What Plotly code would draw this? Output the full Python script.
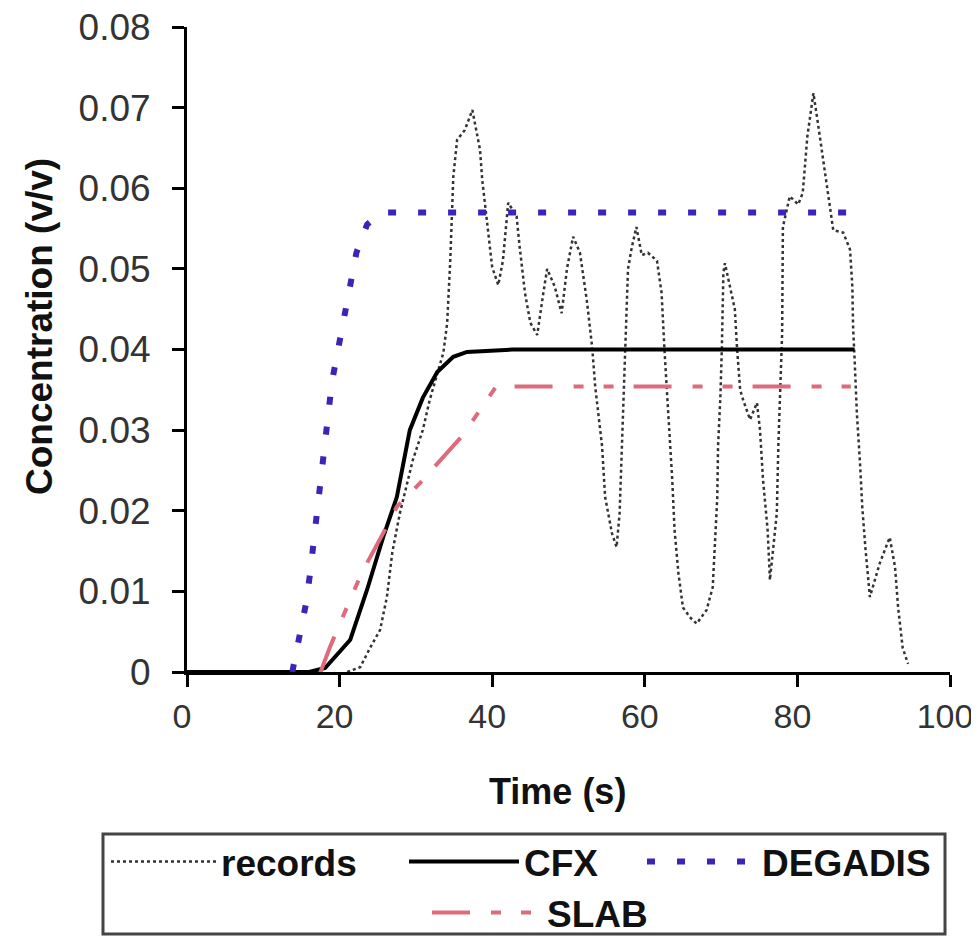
import plotly.graph_objects as go

# ---------------- data ----------------
records_t = [21.0, 22.7, 24.0, 25.3, 26.2, 26.9, 27.9, 29.6, 30.9, 31.8, 33.6, 34.1, 34.5, 34.7, 34.9,
             35.4, 36.4, 37.4, 38.4, 38.7, 39.1, 39.4, 40.0, 40.8, 41.4, 42.1, 43.2, 43.6, 44.3, 45.0,
             45.9, 46.7, 47.2, 48.2, 49.1, 49.8, 50.6, 51.5, 52.4, 53.1, 53.5, 54.4, 54.8, 55.7, 56.3,
             56.7, 57.0, 57.2, 57.4, 57.8, 58.3, 58.9, 59.6, 60.4, 61.6, 62.2, 62.6, 63.0, 63.6, 63.9,
             64.4, 65.0, 65.9, 66.8, 68.1, 68.9, 69.2, 69.5, 69.6, 69.9, 70.1, 70.3, 70.5, 71.2, 71.8,
             72.1, 72.5, 72.9, 73.8, 74.7, 75.1, 75.5, 76.1, 76.4, 77.3, 77.5, 77.7, 78.0, 78.1, 79.0,
             80.1, 80.7, 81.3, 82.1, 82.7, 83.4, 84.0, 84.7, 86.0, 86.9, 87.2, 87.3, 87.5, 87.8, 88.2,
             88.5, 88.9, 89.5, 90.8, 92.1, 92.8, 93.2, 93.8, 94.5]
records_c = [0.0, 0.0006, 0.003, 0.0052, 0.0093, 0.0148, 0.0197, 0.0263, 0.030, 0.0337, 0.0396, 0.0433,
             0.051, 0.0573, 0.0614, 0.066, 0.0672, 0.0697, 0.0648, 0.061, 0.0577, 0.0548, 0.0502, 0.048,
             0.051, 0.0582, 0.0565, 0.0527, 0.047, 0.0433, 0.0418, 0.047, 0.050, 0.0478, 0.0445, 0.050,
             0.054, 0.052, 0.0461, 0.0403, 0.0354, 0.028, 0.0217, 0.0172, 0.0155, 0.0197, 0.028, 0.034,
             0.0403, 0.050, 0.0527, 0.0552, 0.0517, 0.052, 0.051, 0.047, 0.0396, 0.0337, 0.0238, 0.0176,
             0.0123, 0.008, 0.0068, 0.006, 0.0077, 0.0105, 0.0155, 0.0217, 0.028, 0.034, 0.0403, 0.0495,
             0.0507, 0.0478, 0.045, 0.040, 0.035, 0.0337, 0.0313, 0.0334, 0.030, 0.0238, 0.0176, 0.0114,
             0.0197, 0.028, 0.0346, 0.042, 0.0552, 0.059, 0.058, 0.0594, 0.0664, 0.0718, 0.068, 0.0635,
             0.0594, 0.0548, 0.0545, 0.0524, 0.0478, 0.0428, 0.0387, 0.032, 0.026, 0.0205, 0.0155, 0.0093,
             0.0135, 0.0167, 0.013, 0.008, 0.003, 0.001]

cfx_t = [0.0, 16.0, 18.1, 19.5, 21.4, 23.6, 25.7, 27.5, 29.2, 30.9, 32.8, 34.9, 36.7, 42.7, 87.5]
cfx_c = [0.0, 0.0, 0.0005, 0.002, 0.004, 0.0102, 0.0167, 0.0217, 0.030, 0.034, 0.0372, 0.0391, 0.0397,
         0.040, 0.040]

degadis_t = [13.8, 14.8, 15.6, 16.1, 16.6, 17.1, 17.5, 18.0, 18.5, 19.0, 19.8, 20.6, 21.3, 22.2, 23.6,
             25.5, 88.0]
degadis_c = [0.0, 0.0045, 0.0085, 0.012, 0.016, 0.020, 0.024, 0.0285, 0.0325, 0.036, 0.040, 0.044,
             0.048, 0.052, 0.0555, 0.057, 0.057]

slab_t = [17.5, 18.7, 20.4, 22.9, 25.7, 27.5, 30.5, 33.2, 36.0, 38.4, 40.5, 87.0]
slab_c = [0.0, 0.003, 0.0068, 0.0123, 0.0172, 0.0205, 0.0234, 0.0263, 0.0292, 0.0325, 0.0354, 0.0354]

y_ticks = [0.0, 0.01, 0.02, 0.03, 0.04, 0.05, 0.06, 0.07, 0.08]
y_ticktext = ["0", "0.01", "0.02", "0.03", "0.04", "0.05", "0.06", "0.07", "0.08"]
x_ticks = [0, 20, 40, 60, 80, 100]
x_ticktext = ["0", "20", "40", "60", "80", "100"]

FONT = "Liberation Sans, Arial, sans-serif"

fig = go.Figure()
fig.add_trace(go.Scatter(x=records_t, y=records_c, mode="lines", name="records",
                         line=dict(color="#333333", width=2.5, dash="dot"), legend="legend"))
fig.add_trace(go.Scatter(x=cfx_t, y=cfx_c, mode="lines", name="CFX",
                         line=dict(color="#000000", width=4), legend="legend2"))
fig.add_trace(go.Scatter(x=degadis_t, y=degadis_c, mode="lines", name="DEGADIS",
                         line=dict(color="#3f22b8", width=6, dash="8px,22px"), legend="legend3"))
fig.add_trace(go.Scatter(x=slab_t, y=slab_c, mode="lines", name="SLAB",
                         line=dict(color="#dd6b7b", width=4, dash="38px,21px,10px,20px,10px,20px"),
                         legend="legend4"))

# page body has an 8px margin: the figure is placed at (8, 8) on screen
OFF = 8
W, H = 979 - OFF, 937 - OFF
PLOT_X0, PLOT_X1, PLOT_Y0, PLOT_Y1 = 187, 950, 27, 672   # screen pixels of the plot area
L, T = PLOT_X0 - OFF, PLOT_Y0 - OFF
R, B = W - (PLOT_X1 - OFF), H - (PLOT_Y1 - OFF)
PW, PH = PLOT_X1 - PLOT_X0, PLOT_Y1 - PLOT_Y0


def px(xs):
    return (xs - PLOT_X0) / PW


def py(ys):
    return (PLOT_Y1 - ys) / PH


leg_font = dict(family=FONT, size=37, color="#111111", weight="bold")


def leg(x_left, y_mid, itemwidth):
    return dict(x=px(x_left), y=py(y_mid), xanchor="left", yanchor="middle",
                bgcolor="rgba(0,0,0,0)", borderwidth=0, font=leg_font,
                itemwidth=itemwidth, orientation="h", tracegroupgap=0)


fig.update_layout(
    width=W, height=H,
    margin=dict(l=L, r=R, t=T, b=B, pad=0, autoexpand=False),
    plot_bgcolor="white", paper_bgcolor="white",
    showlegend=True,
    legend=leg(106, 862, 105),
    legend2=leg(404, 862, 110),
    legend3=leg(642, 862, 110),
    legend4=leg(427, 913, 110),
    font=dict(family=FONT, size=37, color="#222222"),
)

fig.update_xaxes(range=[0, 100], tickvals=x_ticks, ticktext=x_ticktext,
                 showline=True, linewidth=3, linecolor="black", ticks="outside",
                 ticklen=12, tickwidth=3, tickcolor="black", showgrid=False, zeroline=False,
                 tickfont=dict(family=FONT, size=34, color="#333333"), ticklabelstandoff=0,
                 ticklabelshift=-5, ticklabeloverflow="allow")
fig.update_yaxes(range=[0, 0.08], tickvals=y_ticks, ticktext=y_ticktext,
                 showline=True, linewidth=3, linecolor="black", ticks="outside",
                 ticklen=12, tickwidth=3, tickcolor="black", showgrid=False, zeroline=False,
                 tickfont=dict(family=FONT, size=37, color="#333333"), ticklabelstandoff=14,
                 ticklabeloverflow="allow")

fig.add_annotation(text="Concentration (v/v)", xref="paper", yref="paper", x=px(39), y=py(327),
                   xanchor="center", yanchor="middle", textangle=-90, showarrow=False,
                   font=dict(family=FONT, size=37, color="#111111", weight="bold"))
fig.add_annotation(text="Time (s)", xref="paper", yref="paper", x=px(557), y=py(792),
                   xanchor="center", yanchor="middle", showarrow=False,
                   font=dict(family=FONT, size=36, color="#111111", weight="bold"))

fig.add_shape(type="rect", xref="paper", yref="paper",
              x0=px(103), x1=px(945), y0=py(934), y1=py(834),
              line=dict(color="#444444", width=3), fillcolor="rgba(0,0,0,0)")

fig.write_html("out.html")
